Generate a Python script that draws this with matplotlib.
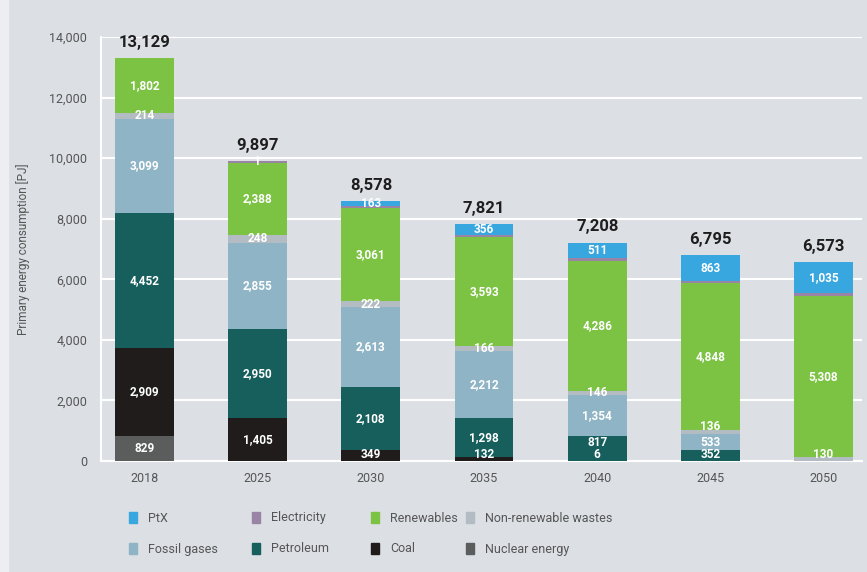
import numpy as np
import matplotlib.pyplot as plt
from matplotlib.patches import Rectangle

plt.rcParams['font.family'] = ['Roboto', 'DejaVu Sans']

years = ['2018', '2025', '2030', '2035', '2040', '2045', '2050']

# stacked from the bottom up
nuclear     = [829, 0, 0, 0, 0, 0, 0]
coal        = [2909, 1405, 349, 132, 6, 0, 0]
petroleum   = [4452, 2950, 2108, 1298, 817, 352, 0]
fossil_gas  = [3099, 2855, 2613, 2212, 1354, 533, 0]
wastes      = [214, 248, 222, 166, 146, 136, 130]
renewables  = [1802, 2388, 3061, 3593, 4286, 4848, 5308]
electricity = [0, 50, 62, 64, 88, 63, 100]
ptx         = [0, 1, 163, 356, 511, 863, 1035]

totals = [13129, 9897, 8578, 7821, 7208, 6795, 6573]

series = [
    ('Nuclear energy', nuclear, '#5b5c5c', True),
    ('Coal', coal, '#211c1c', True),
    ('Petroleum', petroleum, '#175f5d', True),
    ('Fossil gases', fossil_gas, '#8fb4c5', True),
    ('Non-renewable wastes', wastes, '#b3bcc2', True),
    ('Renewables', renewables, '#7cc243', True),
    ('Electricity', electricity, '#9a84a6', False),
    ('PtX', ptx, '#38a6df', True),
]

bg = '#dcdfe4'
fig = plt.figure(figsize=(8.67, 5.72), dpi=100, facecolor=bg)
fig.patches.append(Rectangle((0, 0), 8 / 867, 1, transform=fig.transFigure,
                             color='#eceef1', zorder=0))
ax = fig.add_axes([101 / 867, 1 - 461 / 572, 761 / 867, 424 / 572])
ax.set_facecolor(bg)

x = np.arange(len(years))
width = 0.52
bottom = np.zeros(len(years))
for name, vals, col, labelled in series:
    vals = np.array(vals, dtype=float)
    ax.bar(x, vals, width, bottom=bottom, color=col, zorder=3)
    if labelled:
        for i, v in enumerate(vals):
            if v <= 0:
                continue
            yc = max(bottom[i] + v / 2, 230)
            # keep the tiny coal label in 2040 from sitting on petroleum's
            if name == 'Petroleum' and years[i] == '2040':
                yc += 200
            if name == 'Non-renewable wastes' and years[i] == '2045':
                yc += 180
            ax.text(x[i], yc, f'{int(v):,}', ha='center', va='center',
                    color='white', fontsize=8.5, fontweight='bold', zorder=4)
    bottom += vals

for i, t in enumerate(totals):
    ax.annotate(f'{t:,}', (x[i], bottom[i]), xytext=(0, 6),
                textcoords='offset points', ha='center', va='bottom',
                color='#1e1e1e', fontsize=12, fontweight='bold', zorder=4)

ax.set_ylim(0, 14000)
ax.set_xlim(-0.385, 6.34)
ax.set_yticks(np.arange(0, 14001, 2000))
ax.set_yticklabels([f'{v:,}' for v in range(0, 14001, 2000)])
ax.set_xticks(x)
ax.set_xticklabels(years)
ax.tick_params(length=0, colors='#555555', labelsize=9)
ax.tick_params(axis='y', pad=10)
ax.tick_params(axis='x', pad=8)
ax.grid(axis='y', color='white', linewidth=1.5, zorder=0)
for s in ['top', 'right']:
    ax.spines[s].set_visible(False)
for s in ['left', 'bottom']:
    ax.spines[s].set_color('white')
    ax.spines[s].set_linewidth(1.5)
ax.set_ylabel('Primary energy consumption [PJ]', color='#555555', fontsize=8.5)
ax.yaxis.set_label_coords(-0.093, 0.5)

# legend laid out in two rows of four
colours = {n: c for n, _, c, _ in series}
legend_rows = [['PtX', 'Electricity', 'Renewables', 'Non-renewable wastes'],
               ['Fossil gases', 'Petroleum', 'Coal', 'Nuclear energy']]
col_x = [129, 252, 371, 466]
row_y = [518, 549]
for r, row in enumerate(legend_rows):
    for c, name in enumerate(row):
        px, py = col_x[c], row_y[r]
        fig.patches.append(Rectangle((px / 867, 1 - (py + 5) / 572), 8 / 867, 11 / 572,
                                     transform=fig.transFigure,
                                     color=colours[name], zorder=2))
        fig.text((px + 19) / 867, 1 - py / 572, name, ha='left', va='center',
                 color='#555555', fontsize=9)

fig.savefig('out.png', dpi=100, facecolor=bg)
